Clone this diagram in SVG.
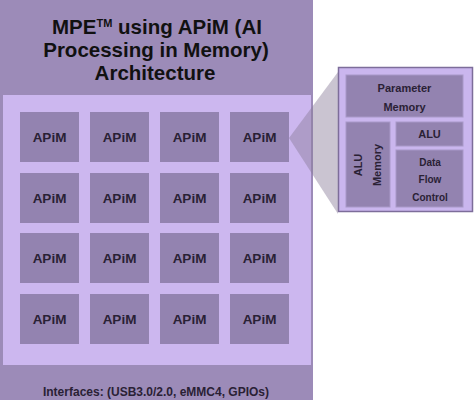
<svg xmlns="http://www.w3.org/2000/svg" width="474" height="405" viewBox="0 0 474 405">
<defs>
<style>
.band{fill:#9c8bb8}
.light{fill:#ccb7ef}
.cell{fill:#9383b0}
.sub{fill:#9383b0;stroke:#a898c8;stroke-width:1}
.t{font-family:"Liberation Sans",Arial,sans-serif;font-weight:bold;text-anchor:middle;fill:#2a2135}
.title{font-size:20.5px;fill:#111}
.cellt{font-size:13.5px}
.st{font-size:11px}
.st2{font-size:10px}
</style>
</defs>
<rect width="474" height="405" fill="#ffffff"/>
<g id="mpe-chip">
<rect class="band" x="0" y="0" width="313" height="400"/>
<rect class="light" x="3" y="95" width="308" height="270"/>
<text class="t title" x="157" y="34">MPE<tspan font-size="11" dy="-7">TM</tspan><tspan dy="7"> using APiM (AI</tspan></text>
<text class="t title" x="156" y="57">Processing in Memory)</text>
<text class="t title" x="155" y="80">Architecture</text>
<text class="t" x="156" y="396" font-size="12">Interfaces: (USB3.0/2.0, eMMC4, GPIOs)</text>
</g>
<g id="apim-grid">
<g id="apim-1-1"><rect class="cell" x="20" y="112" width="59" height="50"/><text class="t cellt" x="49.5" y="142">APiM</text></g>
<g id="apim-1-2"><rect class="cell" x="90" y="112" width="59" height="50"/><text class="t cellt" x="119.5" y="142">APiM</text></g>
<g id="apim-1-3"><rect class="cell" x="160" y="112" width="59" height="50"/><text class="t cellt" x="189.5" y="142">APiM</text></g>
<g id="apim-1-4"><rect class="cell" x="230" y="112" width="59" height="50"/><text class="t cellt" x="259.5" y="142">APiM</text></g>
<g id="apim-2-1"><rect class="cell" x="20" y="173" width="59" height="50"/><text class="t cellt" x="49.5" y="203">APiM</text></g>
<g id="apim-2-2"><rect class="cell" x="90" y="173" width="59" height="50"/><text class="t cellt" x="119.5" y="203">APiM</text></g>
<g id="apim-2-3"><rect class="cell" x="160" y="173" width="59" height="50"/><text class="t cellt" x="189.5" y="203">APiM</text></g>
<g id="apim-2-4"><rect class="cell" x="230" y="173" width="59" height="50"/><text class="t cellt" x="259.5" y="203">APiM</text></g>
<g id="apim-3-1"><rect class="cell" x="20" y="233" width="59" height="50"/><text class="t cellt" x="49.5" y="263">APiM</text></g>
<g id="apim-3-2"><rect class="cell" x="90" y="233" width="59" height="50"/><text class="t cellt" x="119.5" y="263">APiM</text></g>
<g id="apim-3-3"><rect class="cell" x="160" y="233" width="59" height="50"/><text class="t cellt" x="189.5" y="263">APiM</text></g>
<g id="apim-3-4"><rect class="cell" x="230" y="233" width="59" height="50"/><text class="t cellt" x="259.5" y="263">APiM</text></g>
<g id="apim-4-1"><rect class="cell" x="20" y="294" width="59" height="50"/><text class="t cellt" x="49.5" y="324">APiM</text></g>
<g id="apim-4-2"><rect class="cell" x="90" y="294" width="59" height="50"/><text class="t cellt" x="119.5" y="324">APiM</text></g>
<g id="apim-4-3"><rect class="cell" x="160" y="294" width="59" height="50"/><text class="t cellt" x="189.5" y="324">APiM</text></g>
<g id="apim-4-4"><rect class="cell" x="230" y="294" width="59" height="50"/><text class="t cellt" x="259.5" y="324">APiM</text></g>
</g>
<g id="connectors">
<polygon points="289,138 338,72 338,214" fill="#8a7d99" fill-opacity="0.45"/>
</g>
<g id="apim-detail">
<rect x="338.5" y="67.5" width="134" height="144" fill="#cab6ee" stroke="#7d6d9a" stroke-width="1.5"/>
<g id="parameter-memory"><rect class="sub" x="346" y="75" width="117" height="42"/><text class="t st" x="404.5" y="92">Parameter</text><text class="t st" x="404.5" y="111">Memory</text></g>
<g id="alu-memory"><rect class="sub" x="346" y="122" width="44" height="85"/><text class="t st" transform="translate(362,165) rotate(-90)" x="0" y="0" font-size="11.5">ALU</text><text class="t st" transform="translate(381,165) rotate(-90)" x="0" y="0" font-size="11.5">Memory</text></g>
<g id="alu"><rect class="sub" x="396" y="122" width="67" height="24"/><text class="t st" x="429.5" y="138">ALU</text></g>
<g id="data-flow-control"><rect class="sub" x="396" y="150" width="67" height="57"/><text class="t st2" x="430" y="166">Data</text><text class="t st2" x="430" y="183">Flow</text><text class="t st2" x="430" y="201">Control</text></g>
</g>
</svg>
